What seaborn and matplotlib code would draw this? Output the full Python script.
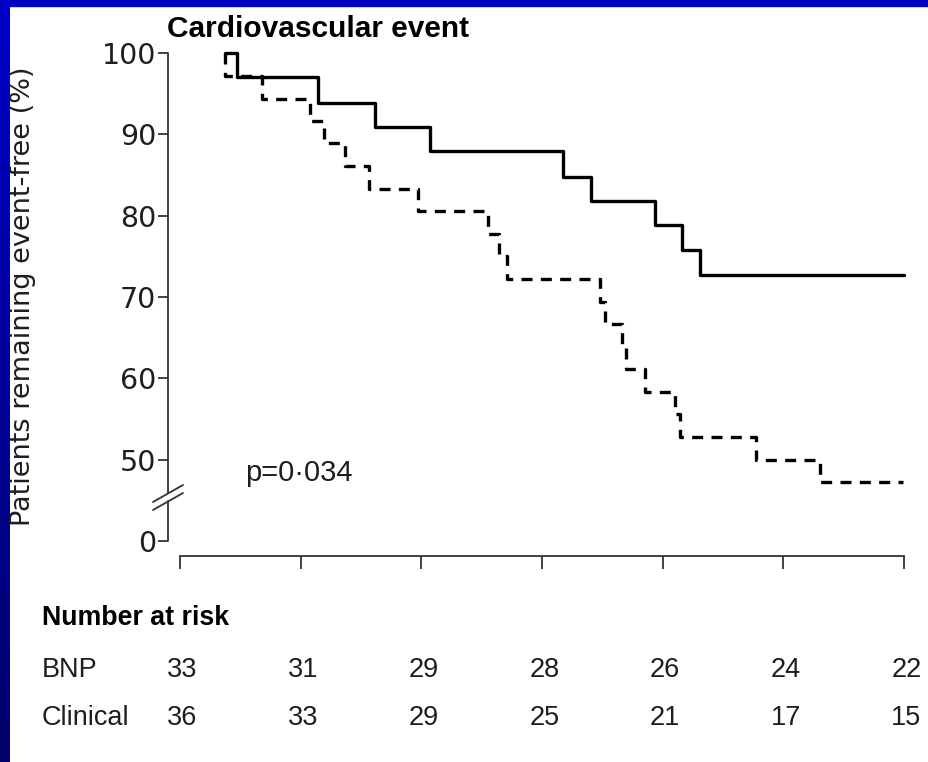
import numpy as np
import pandas as pd
import matplotlib
matplotlib.use("Agg")
import matplotlib.pyplot as plt
from matplotlib.lines import Line2D
from matplotlib.patches import Rectangle
from matplotlib.transforms import blended_transform_factory
import seaborn as sns

# Kaplan-Meier curves: follow-up time (tick units 0..6) and % event-free
bnp_time = [0.37, 0.47, 1.14, 1.62, 2.07, 3.17, 3.41, 3.94, 4.16, 4.31, 6.00]
bnp_surv = [100.0, 97.0, 93.9, 90.9, 87.9, 84.8, 81.8, 78.8, 75.8, 72.7, 72.7]

clin_time = [0.37, 0.37, 0.68, 1.08, 1.19, 1.37, 1.57, 1.97, 2.55, 2.64, 2.71,
             3.48, 3.52, 3.66, 3.70, 3.85, 4.10, 4.14, 4.77, 5.30, 5.99]
clin_surv = [100.0, 97.2, 94.4, 91.7, 88.9, 86.1, 83.3, 80.6, 77.8, 75.0, 72.2,
             69.4, 66.7, 63.9, 61.1, 58.3, 55.6, 52.8, 50.0, 47.2, 47.2]

# y axis: broken scale, the lowest tick (placed at 40) stands for 0
y_ticks = [40, 50, 60, 70, 80, 90, 100]
y_tick_labels = ["0", "50", "60", "70", "80", "90", "100"]
x_ticks = [0, 1, 2, 3, 4, 5, 6]

risk_groups = ["BNP", "Clinical"]
risk_bnp = [33, 31, 29, 28, 26, 24, 22]
risk_clinical = [36, 33, 29, 25, 21, 17, 15]

W, H = 929, 762
sns.set_theme(style="white")
plt.rcParams["font.family"] = ["Liberation Sans", "DejaVu Sans"]
ink = "#1e1e1e"
axis_c = "#333333"

fig = plt.figure(figsize=(W / 100, H / 100), dpi=100)
fig.patch.set_facecolor("white")

# blue slide frame: top band and shaded left band
fig.patches.append(Rectangle((0, 1 - 6 / H), 1, 6 / H, transform=fig.transFigure,
                             color="#0000c4", zorder=0))
band = fig.add_axes([0, 0, 10 / W, 1])
grad = np.linspace(0, 1, 256)[:, None]
top_c = np.array([0, 0, 200]) / 255
bot_c = np.array([0, 0, 105]) / 255
band.imshow((top_c + (bot_c - top_c) * grad[:, :, None]), aspect="auto",
            extent=[0, 1, 0, 1])
band.set_axis_off()

def px(x, y):
    return x / W, 1 - y / H

x0, y0 = px(168, 541)
x1, y1 = px(904, 53)
ax = fig.add_axes([x0, y0, x1 - x0, y1 - y0])
ax.set_facecolor("none")

bnp = pd.DataFrame({"time": bnp_time, "surv": bnp_surv})
clin = pd.DataFrame({"time": clin_time, "surv": clin_surv})

sns.lineplot(data=bnp, x="time", y="surv", ax=ax, sort=False, estimator=None,
             drawstyle="steps-post", color="black", linewidth=2.4, clip_on=False)
sns.lineplot(data=clin, x="time", y="surv", ax=ax, sort=False, estimator=None,
             drawstyle="steps-post", color="black", linewidth=2.4,
             linestyle=(0, (3.3, 2.5)), clip_on=False)

ax.set_xlim(-12 / 120.67, 6)
ax.set_ylim(40, 100)
ax.set_xlabel("")
ax.set_ylabel("")

for s in ["top", "right", "left"]:
    ax.spines[s].set_visible(False)
ax.spines["bottom"].set_position(("outward", 10.8))
ax.spines["bottom"].set_bounds(0, 6)
ax.spines["bottom"].set_color(axis_c)
ax.spines["bottom"].set_linewidth(1.3)

ax.set_xticks(x_ticks)
ax.set_xticklabels([""] * len(x_ticks))
ax.set_yticks(y_ticks)
ax.set_yticklabels(y_tick_labels, family="DejaVu Sans", fontsize=20.5, color=ink)
ax.tick_params(axis="y", direction="out", length=7, width=1.3,
               color=axis_c, left=True, pad=1.5)
ax.tick_params(axis="x", direction="out", length=9.5, width=1.3,
               color=axis_c, bottom=True)

# left axis line with a break between 50 and 0
yline = blended_transform_factory(ax.transAxes, ax.transData)
ax.add_line(Line2D([0, 0], [100, 45.9], transform=yline, color=axis_c,
                   lw=1.3, clip_on=False))
ax.add_line(Line2D([0, 0], [44.9, 40], transform=yline, color=axis_c,
                   lw=1.3, clip_on=False))
for dy in (0, 8):
    (ax_, ay_), (bx_, by_) = px(153, 502 + dy), px(183, 485 + dy)
    fig.add_artist(Line2D([ax_, bx_], [ay_, by_], transform=fig.transFigure,
                          color=axis_c, lw=1.3))

fig.text(*px(23, 296), "Patients remaining event-free (%)", rotation=90,
         ha="center", va="center", fontsize=19.5, family="DejaVu Sans", color=ink)
fig.text(*px(167, 37), "Cardiovascular event", ha="left", va="baseline",
         fontsize=21.5, fontweight="bold", color="black")
fig.text(*px(245, 481), "p=0\u00b7034", ha="left", va="baseline",
         fontsize=21, color=ink)

# number-at-risk table under the time axis
fig.text(*px(42, 618), "Number at risk", ha="left", va="center",
         fontsize=19.3, fontweight="bold", color="black")
row_tr = blended_transform_factory(ax.transData, fig.transFigure)
for label, counts, yy in [(risk_groups[0], risk_bnp, 670),
                          (risk_groups[1], risk_clinical, 718)]:
    fig.text(*px(42, yy), label, ha="left", va="center", fontsize=19.5, color=ink)
    for t, n in zip(x_ticks, counts):
        ax.text(t + 0.02, 1 - yy / H, str(n), transform=row_tr, ha="center",
                va="center", fontsize=19.5, color=ink)

fig.savefig("out.png", dpi=100, facecolor="white")
